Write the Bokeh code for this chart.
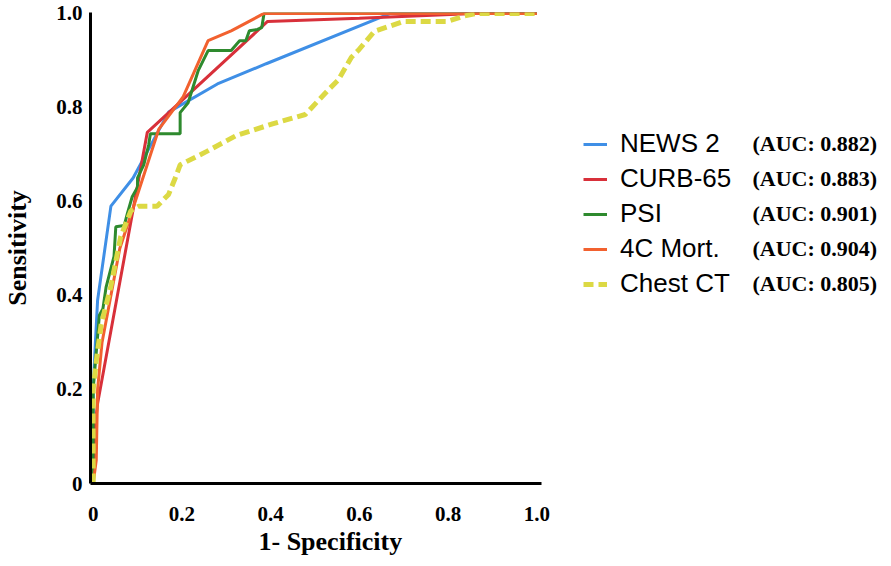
from bokeh.plotting import figure
from bokeh.models import Range1d, FixedTicker, Legend, LegendItem, Label, Title
from bokeh.embed import file_html
from bokeh.resources import INLINE

# ---- data ----
series_names = ["NEWS 2", "CURB-65", "PSI", "4C Mort.", "Chest CT"]
auc_labels = ["(AUC: 0.882)", "(AUC: 0.883)", "(AUC: 0.901)", "(AUC: 0.904)", "(AUC: 0.805)"]

news2_x = [0, 0, 0.005, 0.01, 0.04, 0.09, 0.17, 0.28, 0.39, 0.67, 1.0]
news2_y = [0, 0.2, 0.3, 0.39, 0.59, 0.65, 0.79, 0.85, 0.893, 1.0, 1.0]

curb_x = [0, 0.004, 0.01, 0.105, 0.122, 0.393, 0.6, 0.86, 1.0]
curb_y = [0, 0.12, 0.17, 0.66, 0.747, 0.983, 0.99, 1.0, 1.0]

psi_x = [0, 0, 0.014, 0.022, 0.029, 0.047, 0.051, 0.07, 0.077, 0.088, 0.1, 0.1, 0.114,
         0.125, 0.129, 0.196, 0.196, 0.214, 0.237, 0.259, 0.311, 0.33, 0.344, 0.352,
         0.37, 0.38, 0.385, 1.0]
psi_y = [0, 0.2, 0.358, 0.372, 0.417, 0.483, 0.546, 0.549, 0.574, 0.61, 0.63, 0.65, 0.678,
         0.72, 0.744, 0.744, 0.789, 0.81, 0.879, 0.921, 0.921, 0.942, 0.942, 0.963,
         0.966, 0.97, 1.0, 1.0]

mort_x = [0, 0.007, 0.01, 0.02, 0.06, 0.1, 0.148, 0.203, 0.259, 0.311, 0.385, 1.0]
mort_y = [0, 0.05, 0.2, 0.3, 0.5, 0.615, 0.754, 0.823, 0.942, 0.963, 1.0, 1.0]

ct_x = [0, 0, 0.007, 0.018, 0.04, 0.062, 0.085, 0.103, 0.144, 0.17, 0.185, 0.196, 0.255,
        0.322, 0.404, 0.478, 0.53, 0.552, 0.582, 0.597, 0.634, 0.70, 0.797, 0.834, 0.864, 1.0]
ct_y = [0, 0.2, 0.26, 0.338, 0.42, 0.525, 0.58, 0.59, 0.59, 0.615, 0.65, 0.678, 0.706,
        0.74, 0.765, 0.785, 0.8375, 0.858, 0.907, 0.921, 0.962, 0.983, 0.983, 0.994, 1.0, 1.0]

tick_values = [0, 0.2, 0.4, 0.6, 0.8, 1.0]
tick_labels = ["0", "0.2", "0.4", "0.6", "0.8", "1.0"]

colors = ["#3f8fe6", "#d8303a", "#2e8a2e", "#f2612f", "#dcd944"]

# ---- figure ----
# The frame stretches right over the legend area; the x axis line is bounded to [0, 1].
p = figure(width=883, height=556, output_backend="svg", toolbar_location=None,
           x_range=Range1d(-0.006, 1.781), y_range=Range1d(0, 1.002),
           min_border_left=82, min_border_right=0, min_border_top=12,
           min_border_bottom=72)
p.outline_line_color = None
p.grid.visible = False
p.background_fill_color = "white"
p.border_fill_color = "white"

xs = [news2_x, curb_x, psi_x, mort_x, ct_x]
ys = [news2_y, curb_y, psi_y, mort_y, ct_y]
renderers = []
for i, (x, y) in enumerate(zip(xs, ys)):
    if i == 4:
        r = p.line(x, y, line_color=colors[i], line_width=5, line_dash="10 5")
    else:
        r = p.line(x, y, line_color=colors[i], line_width=3)
    renderers.append(r)

overrides = {v: t for v, t in zip(tick_values, tick_labels)}
for ax in (p.xaxis[0], p.yaxis[0]):
    ax.ticker = FixedTicker(ticks=tick_values)
    ax.major_label_overrides = overrides
    ax.axis_line_width = 3
    ax.axis_line_color = "black"
    ax.major_tick_line_color = None
    ax.minor_tick_line_color = None
    ax.major_label_text_font = "Liberation Serif"
    ax.major_label_text_font_style = "bold"
    ax.major_label_text_font_size = "21px"
    ax.major_label_text_color = "black"
    ax.axis_label_text_font = "Liberation Serif"
    ax.axis_label_text_font_style = "bold"
    ax.axis_label_text_font_size = "26px"
    ax.axis_label_text_color = "black"

p.xaxis.bounds = (-0.006, 1.01)
p.xaxis.major_label_standoff = 17
p.yaxis.axis_label = "Sensitivity"
p.yaxis.major_label_standoff = 2
p.yaxis.axis_label_standoff = 21

# x axis title, placed under the [0, 1] part of the axis
p.add_layout(Title(text="1- Specificity", align="left", offset=168, standoff=2,
                   text_font="Liberation Serif", text_font_style="bold",
                   text_font_size="26px", text_color="black"), "below")

legend = Legend(items=[LegendItem(label=n, renderers=[r]) for n, r in zip(series_names, renderers)],
                location=(493, 184), padding=0, margin=0, spacing=4,
                glyph_width=24, glyph_height=30, label_height=30, label_standoff=13,
                border_line_color=None, background_fill_alpha=0,
                label_text_font="Liberation Sans", label_text_font_size="26px",
                label_text_color="black")
p.add_layout(legend)

row_pitch = 35
for i, t in enumerate(auc_labels):
    p.add_layout(Label(x=662, y=340 - i * row_pitch, x_units="screen", y_units="screen",
                       text=t, text_font="Liberation Serif", text_font_style="bold",
                       text_font_size="22px", text_baseline="middle", text_align="left",
                       text_color="black"))

open("out.html", "w").write(file_html(p, INLINE))
